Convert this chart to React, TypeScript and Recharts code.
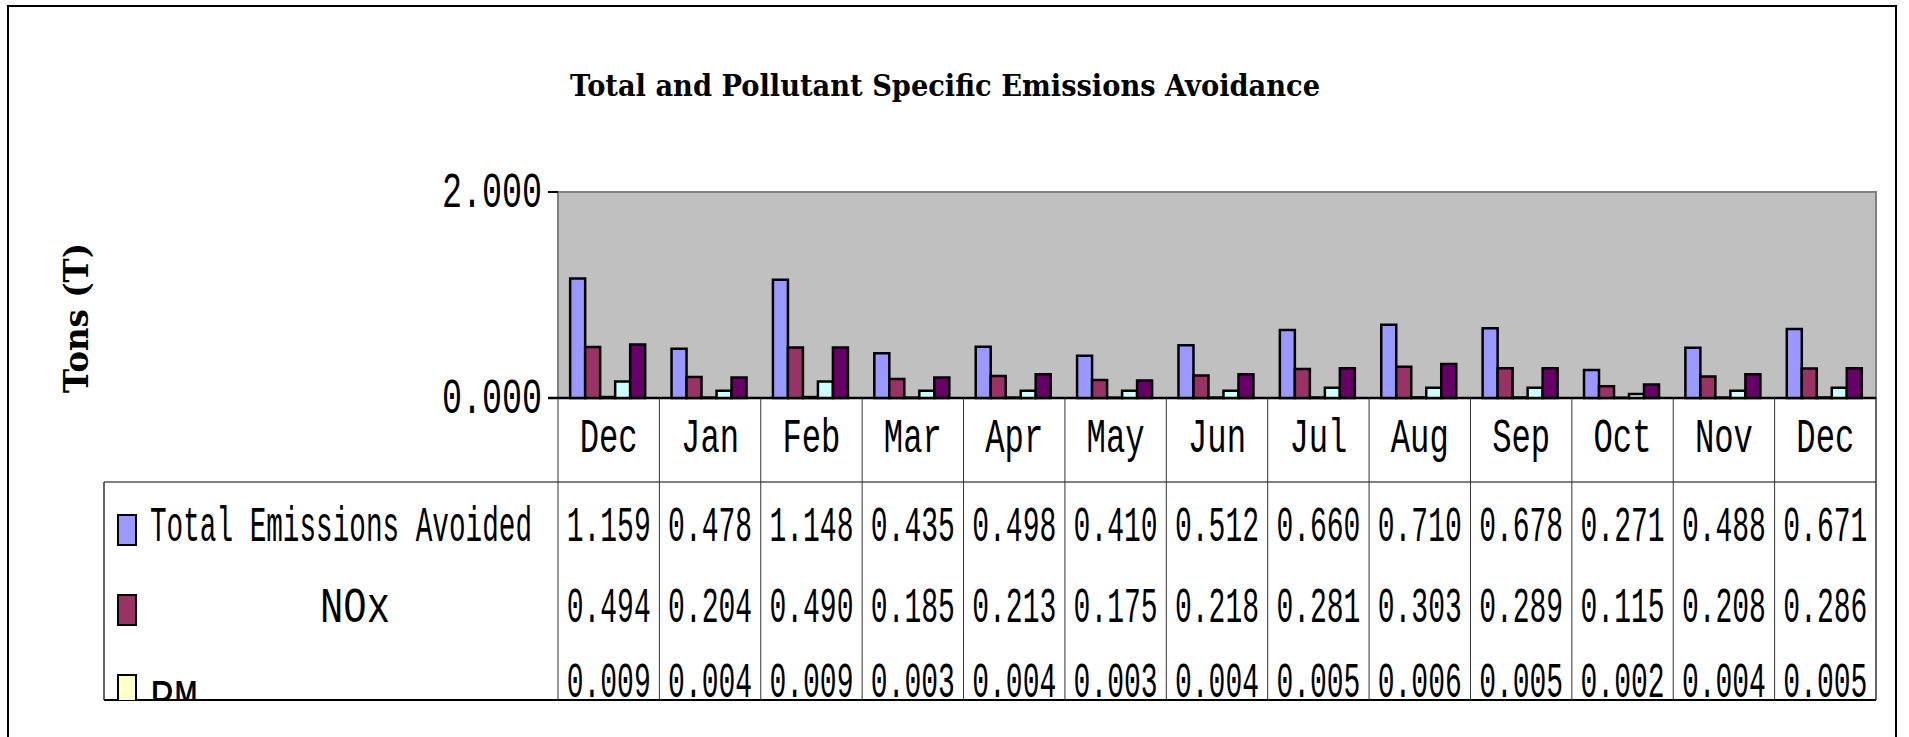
import React from 'react';
import { BarChart, Bar, XAxis, YAxis, CartesianGrid, Customized } from 'recharts';

const months = ['Dec', 'Jan', 'Feb', 'Mar', 'Apr', 'May', 'Jun', 'Jul', 'Aug', 'Sep', 'Oct', 'Nov', 'Dec'];
const totalAvoided = [1.159, 0.478, 1.148, 0.435, 0.498, 0.41, 0.512, 0.66, 0.71, 0.678, 0.271, 0.488, 0.671];
const noxValues = [0.494, 0.204, 0.49, 0.185, 0.213, 0.175, 0.218, 0.281, 0.303, 0.289, 0.115, 0.208, 0.286];
const pmValues = [0.009, 0.004, 0.009, 0.003, 0.004, 0.003, 0.004, 0.005, 0.006, 0.005, 0.002, 0.004, 0.005];
const series4Values = [0.16, 0.07, 0.16, 0.07, 0.07, 0.07, 0.07, 0.1, 0.1, 0.1, 0.04, 0.07, 0.1];
const series5Values = [0.52, 0.2, 0.49, 0.2, 0.23, 0.17, 0.23, 0.29, 0.33, 0.29, 0.13, 0.23, 0.29];
const yTicks = [0, 2];

const data = months.map((month, i) => ({
  month,
  total: totalAvoided[i],
  nox: noxValues[i],
  pm: pmValues[i],
  s4: series4Values[i],
  s5: series5Values[i],
}));

const tableRows = [
  { name: 'Total Emissions Avoided', values: totalAvoided, color: '#9999FF' },
  { name: 'NOx', values: noxValues, color: '#993366' },
  { name: 'PM', values: pmValues, color: '#FFFFCC' },
];

const W = 1909;
const H = 737;
const PLOT_L = 558;
const PLOT_R = 1876;
const PLOT_T = 192;
const PLOT_B = 398;
const TABLE_TOP = 482;
const TABLE_BOTTOM = 700;
const TABLE_L = 104;
const BAND = (PLOT_R - PLOT_L) / months.length;
const ROW_BASE = [541, 622, 697];
const MONO = "'Liberation Mono', 'DejaVu Sans Mono', monospace";
const SLAB = "'DejaVu Serif', 'Liberation Serif', serif";

// monospace text squeezed to a given width (Liberation Mono advance is 0.6em)
const Squeezed = ({ x, y, width, size, anchor = 'middle', text }: any) => {
  const sx = width / (text.length * 0.6 * size);
  return (
    <text transform={`translate(${x} ${y}) scale(${sx.toFixed(4)} 1)`} textAnchor={anchor} fontFamily={MONO} fontSize={size} fill="#000">
      {text}
    </text>
  );
};

const MonthTick = (props: any) => {
  const { x } = props;
  const index = props.index ?? props.payload?.index ?? 0;
  const left = x - BAND / 2;
  return (
    <g>
      <line x1={left} y1={PLOT_B} x2={left} y2={TABLE_BOTTOM} stroke="#333" strokeWidth={1} />
      {index === months.length - 1 && (
        <line x1={left + BAND} y1={PLOT_B} x2={left + BAND} y2={TABLE_BOTTOM} stroke="#333" strokeWidth={1.5} />
      )}
      <Squeezed x={x} y={452} width={58} size={48} text={months[index]} />
      <g clipPath="url(#tableClip)">
        {tableRows.map((r, k) => (
          <Squeezed key={k} x={x} y={ROW_BASE[k]} width={84} size={50} text={r.values[index].toFixed(3)} />
        ))}
      </g>
    </g>
  );
};

const ValueTick = (props: any) => {
  const { x, y, payload } = props;
  return <Squeezed x={x} y={y + 15} width={100} size={50} anchor="end" text={Number(payload.value).toFixed(3)} />;
};

const Frame = () => (
  <g>
    <defs>
      <clipPath id="tableClip">
        <rect x={0} y={0} width={W} height={TABLE_BOTTOM} />
      </clipPath>
    </defs>
    <rect x={8} y={6} width={1888} height={760} fill="none" stroke="#000" strokeWidth={2} />
    <text x={945} y={96} textAnchor="middle" fontFamily={SLAB} fontWeight="bold" fontSize={30} textLength={750} lengthAdjust="spacingAndGlyphs" fill="#000">
      Total and Pollutant Specific Emissions Avoidance
    </text>
    <text x={88} y={318} transform="rotate(-90 88 318)" textAnchor="middle" fontFamily={SLAB} fontWeight="bold" fontSize={34} textLength={150} lengthAdjust="spacingAndGlyphs" fill="#000">
      Tons (T)
    </text>
    <rect x={PLOT_L} y={PLOT_T} width={PLOT_R - PLOT_L} height={PLOT_B - PLOT_T} fill="none" stroke="#808080" strokeWidth={2} />
    <line x1={PLOT_L - 10} y1={PLOT_B} x2={PLOT_R} y2={PLOT_B} stroke="#000" strokeWidth={2.5} />
    <line x1={TABLE_L} y1={TABLE_TOP} x2={PLOT_R} y2={TABLE_TOP} stroke="#808080" strokeWidth={2} />
    <line x1={TABLE_L} y1={TABLE_TOP} x2={TABLE_L} y2={TABLE_BOTTOM} stroke="#333" strokeWidth={1.5} />
    <line x1={TABLE_L} y1={TABLE_BOTTOM} x2={PLOT_R} y2={TABLE_BOTTOM} stroke="#000" strokeWidth={2} />
    <g clipPath="url(#tableClip)">
      <rect x={118} y={515} width={18} height={30} fill={tableRows[0].color} stroke="#000" strokeWidth={2} />
      <rect x={118} y={595} width={18} height={30} fill={tableRows[1].color} stroke="#000" strokeWidth={2} />
      <rect x={118} y={675} width={18} height={30} fill={tableRows[2].color} stroke="#000" strokeWidth={2} />
      <Squeezed x={150} y={541} width={382} size={50} anchor="start" text={tableRows[0].name} />
      <Squeezed x={355} y={622} width={70} size={50} text={tableRows[1].name} />
      <Squeezed x={150} y={714} width={48} size={50} anchor="start" text={tableRows[2].name} />
    </g>
  </g>
);

export default function App() {
  return (
    <div style={{ position: 'absolute', left: 0, top: 0, background: '#fff' }}>
      <BarChart
        width={W}
        height={H}
        data={data}
        margin={{ top: PLOT_T, right: W - PLOT_R, bottom: H - PLOT_B - 300, left: PLOT_L - 60 }}
        barCategoryGap="12%"
        barGap={0}
      >
        <CartesianGrid fill="#C0C0C0" horizontal={false} vertical={false} />
        <XAxis dataKey="month" height={300} axisLine={false} tickLine={false} interval={0} tick={<MonthTick />} />
        <YAxis width={60} domain={[0, 2]} ticks={yTicks} axisLine={false} tickSize={10} tickMargin={6} tickLine={{ stroke: '#000', strokeWidth: 2 }} tick={<ValueTick />} />
        <Bar dataKey="total" fill="#9999FF" stroke="#000" strokeWidth={2.5} isAnimationActive={false} />
        <Bar dataKey="nox" fill="#993366" stroke="#000" strokeWidth={2.5} isAnimationActive={false} />
        <Bar dataKey="pm" fill="#FFFFCC" stroke="#000" strokeWidth={2.5} isAnimationActive={false} />
        <Bar dataKey="s4" fill="#CCFFFF" stroke="#000" strokeWidth={2.5} isAnimationActive={false} />
        <Bar dataKey="s5" fill="#660066" stroke="#000" strokeWidth={2.5} isAnimationActive={false} />
        <Customized component={Frame} />
      </BarChart>
    </div>
  );
}
